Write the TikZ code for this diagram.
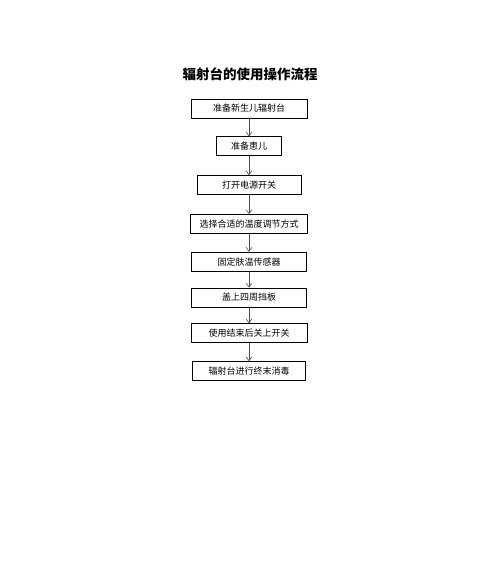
\documentclass[tikz,border=0pt]{standalone}
\usepackage{fontspec}
\setmainfont{Noto Sans CJK SC}
\usetikzlibrary{positioning, arrows.meta}
\tikzstyle{process} = [rectangle, minimum height=19pt, inner sep=0pt, text centered, draw=black, line width=0.8pt, font=\fontsize{9}{10}\selectfont]
\tikzstyle{arrow} = [draw=black!70, line width=0.6pt, -{Straight Barb[length=4pt,width=6pt]}]

\begin{document}
\begin{tikzpicture}[x=1pt, y=-1pt, node distance=18pt]
\useasboundingbox (0,0) rectangle (500,566);

			\node (titulo) [font=\fontsize{13.5}{15}\selectfont\bfseries] at (250,74) {辐射台的使用操作流程};
			\node (cuna) [process, minimum width=116pt] at (249,108.5) {准备新生儿辐射台};
			\node (nino) [process, minimum width=65pt, below=of cuna] {准备患儿};
			\node (encender) [process, minimum width=104pt, below=19pt of nino] {打开电源开关};
			\node (modo) [process, minimum width=117pt, below=19pt of encender] {选择合适的温度调节方式};
			\node (sensor) [process, minimum width=115pt, below=of modo] {固定肤温传感器};
			\node (tablas) [process, minimum width=115pt, below=16pt of sensor] {盖上四周挡板};
			\node (apagar) [process, minimum width=116pt, below=16pt of tablas] {使用结束后关上开关};
			\node (limpiar) [process, minimum width=113pt, below=of apagar] {辐射台进行终末消毒};

			\draw [arrow] (cuna) -- (nino);
			\draw [arrow] (nino) -- (encender);
			\draw [arrow] (encender) -- (modo);
			\draw [arrow] (modo) -- (sensor);
			\draw [arrow] (sensor) -- (tablas);
			\draw [arrow] (tablas) -- (apagar);
			\draw [arrow] (apagar) -- (limpiar);

\end{tikzpicture}
\end{document}
